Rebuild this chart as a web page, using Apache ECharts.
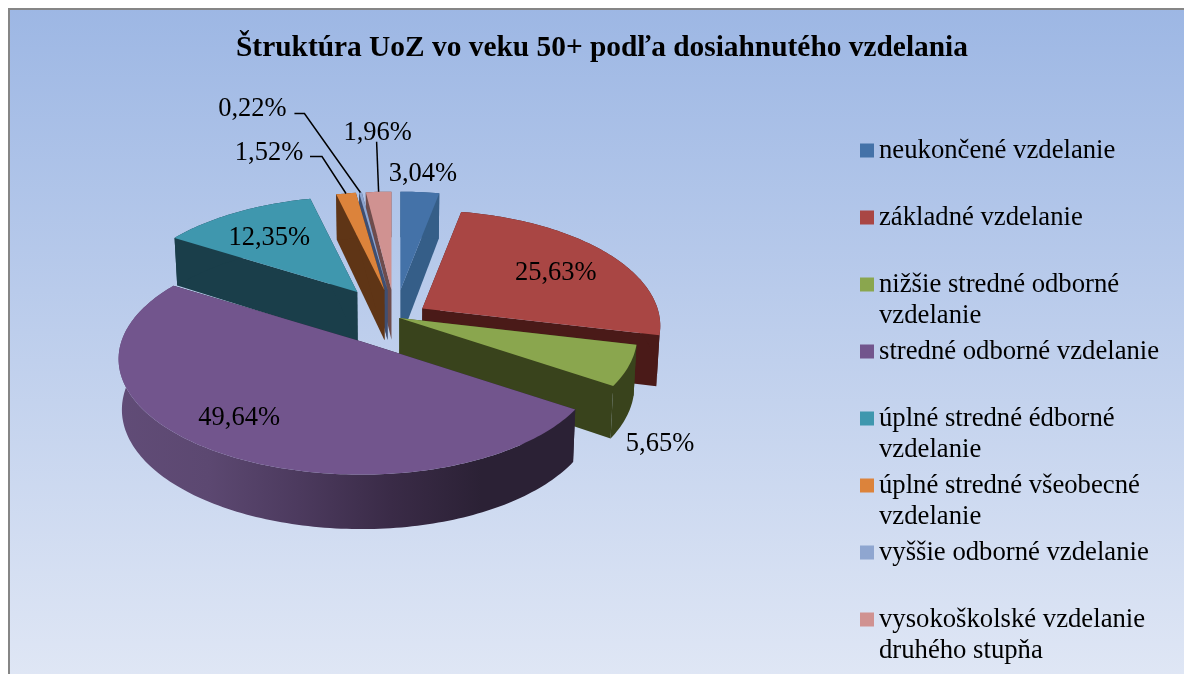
<!DOCTYPE html>
<html><head><meta charset="utf-8">
<script src="https://cdn.jsdelivr.net/npm/echarts@6/dist/echarts.min.js"></script>
<style>html,body{margin:0;padding:0;background:#fff;overflow:hidden}#c{width:1184px;height:674px}</style>
</head><body><div id="c"></div>
<script>
const titleText = 'Štruktúra UoZ vo veku 50+ podľa dosiahnutého vzdelania';
const categories = ['neukončené vzdelanie','základné vzdelanie','nižšie stredné odborné vzdelanie','stredné odborné vzdelanie','úplné stredné édborné vzdelanie','úplné stredné všeobecné vzdelanie','vyššie odborné vzdelanie','vysokoškolské vzdelanie druhého stupňa'];
const shares = [3.04,25.63,5.65,49.64,12.35,1.52,0.22,1.96];
const topColors = ['#4472a8','#a94644','#8aa64e','#72558d','#3f97ae','#dc833b','#8fa6d0','#d09291'];
const wallColors = ['#355e88','#4a1a18','#39431c','#2b2135','#1a3e4a','#5f3516','#3f4f72','#6e4c4c'];
// layout
const FONT = '"Liberation Serif","Times New Roman",serif';
const CX = 395, CY = 317, RX = 240, RY = 113, K = 0.151, DEPTH = 50, RIGHT_SQUEEZE = 0.98;
const explode = [.25,.14,.02,.25,.28,.25,.25,.25];
const sliceRadius = [1,1,1,1,.97,1,1,1];
const labelDelta = [[3,-18],[-49,21],[31,78],[27,-32],[33,26],[-77,-40],[-108,-83],[-1,-59]];
const leaderKnee = [null,null,null,null,null,[-24,-37,-36,-37],[-56,-79,-66,-79],[-2,-50]];
const legendLines = [[0],[0],[1],[0],[1],[1],[0],[1]];
const legendWrap = {2:'nižšie stredné odborné\nvzdelanie',4:'úplné stredné édborné\nvzdelanie',5:'úplné stredné všeobecné\nvzdelanie',7:'vysokoškolské vzdelanie\ndruhého stupňa'};
const LEGEND_FIRST = 148.5, LEGEND_PITCH = 67, LINE = 31;

const total = shares.reduce((a,b)=>a+b,0);
const starts = []; shares.reduce((a,v,i)=>{starts[i]=a;return a+v;},0);
const toRad = p => p/total*2*Math.PI;
function proj(a, f){ // a: clockwise from 12 o'clock, f: radius fraction
  let u=Math.sin(a)*f; const w=Math.cos(a)*f, s=1/(1+K*w);
  if(u>0) u*=RIGHT_SQUEEZE;
  return [RX*u*s, -RY*w*s, w];
}
function apexOf(i){
  const mid=toRad(starts[i]+shares[i]/2), p=proj(mid,explode[i]);
  return [CX+p[0], CY+p[1]];
}
function rim(i,a){
  const ap=apexOf(i), p=proj(a,sliceRadius[i]);
  return [ap[0]+p[0], ap[1]+p[1], p[2]];
}
function drop(pt,w){ return [pt[0]-(pt[0]-CX)*0.012, pt[1]+DEPTH*(1-0.09*w)]; }
function arc(i){
  const a0=toRad(starts[i]), a1=toRad(starts[i]+shares[i]);
  const n=Math.max(2,Math.ceil((a1-a0)/0.02)), pts=[];
  for(let k=0;k<=n;k++) pts.push(rim(i,a0+(a1-a0)*k/n));
  return pts;
}
function wallFill(i){
  if(i!==3) return wallColors[i];
  return new echarts.graphic.LinearGradient(117,0,573,0,[
    {offset:0,color:'#614c77'},{offset:.2,color:'#5c4871'},{offset:.4,color:'#4c3a5e'},
    {offset:.6,color:'#3a2b47'},{offset:.8,color:'#2b2135'},{offset:1,color:'#2b2135'}],true);
}
function renderSlice(i){
  return function(){
    const ap=apexOf(i), pts=arc(i), first=pts[0], last=pts[pts.length-1];
    const apB=drop(ap,0), poly=(points,fill)=>({type:'polygon',shape:{points},style:{fill}});
    const radial=pt=>[ap,[pt[0],pt[1]],drop(pt,pt[2]),apB];
    const outer=pts.map(p=>[p[0],p[1]]).concat(pts.slice().reverse().map(p=>drop(p,p[2])));
    return {type:'group',silent:true,children:[
      poly(radial(first),wallColors[i]),
      poly(radial(last),wallColors[i]),
      poly(outer,wallFill(i)),
      poly([ap].concat(pts.map(p=>[p[0],p[1]])),topColors[i])
    ]};
  };
}
function renderLabel(params,api){
  const i=params.dataIndex, v=api.value(0);
  const m=rim(i,toRad(starts[i]+shares[i]/2)), d=labelDelta[i], kids=[];
  kids.push({type:'text',style:{text:v.toFixed(2).replace('.',',')+'%',x:m[0]+d[0],y:m[1]+d[1],align:'center',verticalAlign:'middle',fontFamily:FONT,fontSize:26.5,fill:'#000'}});
  const q=leaderKnee[i];
  if(q){
    const points=[[m[0],m[1]]];
    for(let k=0;k<q.length;k+=2) points.push([m[0]+q[k],m[1]+q[k+1]]);
    kids.push({type:'polyline',shape:{points},style:{stroke:'#000',lineWidth:1.5,fill:null}});
  }
  return {type:'group',silent:true,children:kids};
}
const drawOrder = categories.map((_,i)=>i).sort((a,b)=>apexOf(a)[1]-apexOf(b)[1] || b-a);
const sliceSeries = drawOrder.map(i=>({
  type:'custom',name:categories[i],coordinateSystem:'none',silent:true,animation:false,
  itemStyle:{color:topColors[i]},data:[[shares[i]]],renderItem:renderSlice(i),clip:false
}));
const chart = echarts.init(document.getElementById('c'),null,{renderer:'canvas'});
chart.setOption({
  animation:false,
  title:{text:titleText,left:597,top:29,textAlign:'center',textStyle:{fontFamily:FONT,fontWeight:'bold',fontSize:29.4,color:'#000'}},
  legend:categories.map((c,i)=>{
    const two=legendLines[i][0]===1;
    return {
      data:[{name:c,itemStyle:{color:topColors[i]}}],
      selectedMode:false,orient:'vertical',left:860,padding:0,
      top:LEGEND_FIRST+LEGEND_PITCH*i-(two?1.5*LINE:LINE/2),
      icon:'rect',itemWidth:14,itemHeight:14,itemGap:0,
      formatter:()=>two?'\n'+legendWrap[i]:c,
      textStyle:{fontFamily:FONT,fontSize:26.7,lineHeight:LINE,color:'#000',padding:[4,0,0,0]}
    };
  }),
  graphic:[{type:'rect',z:-10,silent:true,shape:{x:9,y:9,width:1185,height:675},
    style:{stroke:'#868686',lineWidth:2,
      fill:new echarts.graphic.LinearGradient(0,0,0,1,[{offset:0,color:'#9db7e4'},{offset:1,color:'#e0e7f5'}])}}],
  series:sliceSeries.concat([{type:'custom',name:'labels',coordinateSystem:'none',z:20,silent:true,animation:false,
    data:shares.map(v=>[v]),renderItem:renderLabel}])
});
</script></body></html>
